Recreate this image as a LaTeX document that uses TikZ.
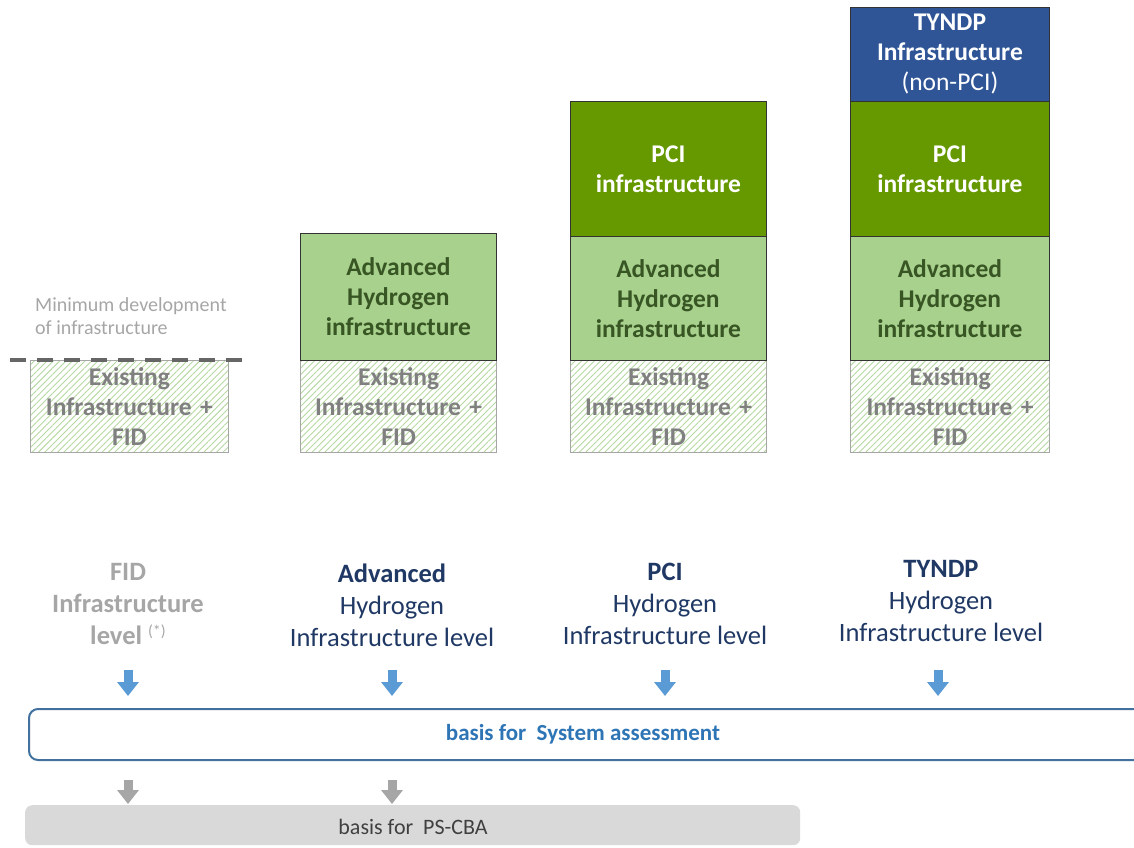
\documentclass[tikz,border=0pt]{standalone}
\usepackage{fontspec}
\setmainfont{Carlito}
\usetikzlibrary{patterns.meta,arrows.meta}
\definecolor{pcigreen}{HTML}{669900}
\definecolor{lgreen}{HTML}{A9D18E}
\definecolor{hatchg}{HTML}{B5D8A0}
\definecolor{tyblue}{HTML}{2F5597}
\definecolor{dgreen}{HTML}{375623}
\definecolor{gtext}{HTML}{808080}
\definecolor{lgray}{HTML}{A6A6A6}
\definecolor{navy}{HTML}{1F3864}
\definecolor{arrblue}{HTML}{5B9BD5}
\definecolor{sysborder}{HTML}{41719C}
\definecolor{systext}{HTML}{2E75B6}
\definecolor{cbafill}{HTML}{D9D9D9}
\definecolor{cbatext}{HTML}{404040}
\tikzset{
  x=1pt,y=-1pt,
  blk/.style={draw=black!80,line width=0.8pt,minimum height=#1,text width=196pt,align=center,inner sep=0pt,font=\fontsize{25.5}{30}\selectfont\bfseries,anchor=north west},
  exist/.style={blk=92pt,draw=lgray,line width=1.2pt,pattern={Lines[angle=45,distance=4.5pt,line width=0.9pt]},pattern color=hatchg,text=gtext},
  adv/.style={blk=#1,fill=lgreen,text=dgreen},
  pci/.style={blk=135pt,fill=pcigreen,text=white},
  lvl/.style={align=center,font=\fontsize{26.5}{32}\selectfont,text=navy},
  barrow/.style={line width=9pt,arrblue,-{Triangle[width=21pt,length=14pt]}},
  garrow/.style={line width=9pt,lgray,-{Triangle[width=21pt,length=14pt]}},
}
\begin{document}
\begin{tikzpicture}
\useasboundingbox (0,0) rectangle (1134,847);
% column 1
\node[exist,minimum width=198pt] (e1) at (30,360) {Existing\\Infrastructure +\\FID};
\coordinate (dl) at (10,360);
\coordinate (dr) at (242,360);
\draw[line width=3.5pt,black!60,dash pattern=on 16pt off 11pt] (dl) -- (dr);
\node[anchor=north west,align=left,inner sep=0pt,font=\fontsize{20}{23}\selectfont,text=lgray] (mind) at (35,297) {Minimum development\\of infrastructure};
% column 2
\node[exist,minimum width=196pt] (e2) at (300,360) {Existing\\Infrastructure +\\FID};
\node[adv=127pt,minimum width=196pt] (a2) at (300,233) {Advanced\\Hydrogen\\infrastructure};
% column 3
\node[exist,minimum width=196pt] (e3) at (570,360) {Existing\\Infrastructure +\\FID};
\node[adv=124pt,minimum width=196pt] (a3) at (570,236) {Advanced\\Hydrogen\\infrastructure};
\node[pci,minimum width=196pt] (p3) at (570,101) {PCI\\infrastructure};
% column 4
\node[exist,minimum width=199pt] (e4) at (850,360) {Existing\\Infrastructure +\\FID};
\node[adv=124pt,minimum width=199pt] (a4) at (850,236) {Advanced\\Hydrogen\\infrastructure};
\node[pci,minimum width=199pt] (p4) at (850,101) {PCI\\infrastructure};
\node[blk=94pt,minimum width=199pt,fill=tyblue,text=white] (t4) at (850,7) {TYNDP\\Infrastructure\\\mdseries(non-PCI)};
% level labels
\node[lvl,text=lgray,font=\fontsize{26.5}{32}\selectfont\bfseries] (l1) at (128,604) {FID\\Infrastructure\\level \raisebox{0.6ex}{\fontsize{16}{16}\selectfont\mdseries(*)}};
\node[lvl] (l2) at (392,605) {\textbf{Advanced}\\Hydrogen\\Infrastructure level};
\node[lvl] (l3) at (665,604) {\textbf{PCI}\\Hydrogen\\Infrastructure level};
\node[lvl] (l4) at (941,601) {\textbf{TYNDP}\\Hydrogen\\Infrastructure level};
% system assessment
\node[draw=sysborder,line width=2pt,rounded corners=9pt,anchor=north west,minimum width=1115pt,minimum height=51pt,inner sep=0pt] (sys) at (28,708) {};
\node[font=\fontsize{23}{26}\selectfont\bfseries,text=systext] (syst) at (583,734) {basis for\ \ System assessment};
% PS-CBA
\node[fill=cbafill,rounded corners=7pt,anchor=north west,minimum width=775pt,minimum height=40pt,inner sep=0pt] (cba) at (25,805) {};
\node[font=\fontsize{22}{26}\selectfont,text=cbatext] (cbat) at (413,827) {basis for\ \ PS-CBA};
% arrows
\foreach \n/\x in {1/128,2/392,3/665,4/938}{
  \coordinate (bs\n) at (\x,670);
  \coordinate (be\n) at (\x,696);
  \draw[barrow] (bs\n) -- (be\n);
}
\foreach \n/\x in {1/128,2/392}{
  \coordinate (gs\n) at (\x,780);
  \coordinate (ge\n) at (\x,804);
  \draw[garrow] (gs\n) -- (ge\n);
}
\end{tikzpicture}
\end{document}
